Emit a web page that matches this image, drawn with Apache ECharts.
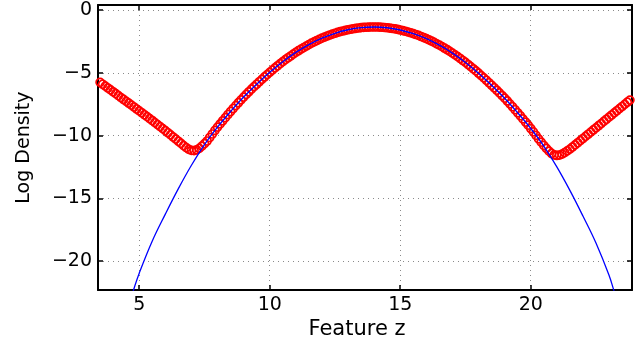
<!DOCTYPE html>
<html>
<head>
<meta charset="utf-8">
<script src="https://cdn.jsdelivr.net/npm/echarts@6/dist/echarts.min.js"></script>
<style>
  html, body { margin: 0; padding: 0; background: #fff; }
  #chart { width: 644px; height: 345px; }
</style>
</head>
<body>
<div id="chart"></div>
<script>
// tick labels
const xTicks = [5, 10, 15, 20];
const yTicks = [-20, -15, -10, -5, 0];

// blue curve (Gaussian fit)
const blueCurve = [
  [4.7, -22.9], [4.8, -22.17], [5.0, -20.95], [5.5, -18.39], [6.0, -16.25], [6.5, -14.22],
  [7.0, -12.36], [7.5, -10.71], [8.0, -9.32], [8.5, -8.08], [9.0, -6.93], [9.5, -5.91],
  [10.0, -4.96], [10.5, -4.11], [11.0, -3.37], [11.5, -2.75], [12.0, -2.24], [12.5, -1.85],
  [13.0, -1.57], [13.5, -1.40], [14.0, -1.35], [14.5, -1.41], [15.0, -1.59], [15.5, -1.88],
  [16.0, -2.28], [16.5, -2.80], [17.0, -3.43], [17.5, -4.17], [18.0, -5.03], [18.5, -5.99],
  [19.0, -7.02], [19.5, -8.18], [20.0, -9.43], [20.5, -10.83], [21.0, -12.49], [21.5, -14.36],
  [22.0, -16.40], [22.5, -18.55], [23.0, -21.12], [23.2, -22.43], [23.3, -23.1]
];

// red circles (empirical log density)
const redCurve = [
  [3.4, -5.62], [3.5, -5.76], [3.6, -5.91], [3.7, -6.06], [3.8, -6.21], [3.9, -6.36],
  [4.0, -6.51], [4.1, -6.66], [4.2, -6.82], [4.3, -6.97], [4.4, -7.12], [4.5, -7.27],
  [4.6, -7.42], [4.7, -7.57], [4.8, -7.72], [4.9, -7.88], [5.0, -8.03], [5.1, -8.18],
  [5.2, -8.34], [5.3, -8.49], [5.4, -8.65], [5.5, -8.80], [5.6, -8.96], [5.7, -9.12],
  [5.8, -9.28], [5.9, -9.44], [6.0, -9.60], [6.1, -9.77], [6.2, -9.94], [6.3, -10.11],
  [6.4, -10.28], [6.5, -10.45], [6.6, -10.62], [6.7, -10.80], [6.8, -10.96], [6.9, -11.10],
  [7.0, -11.18], [7.1, -11.20], [7.2, -11.14], [7.3, -11.02], [7.4, -10.84], [7.5, -10.64],
  [7.6, -10.43], [7.7, -10.15], [7.8, -9.87], [7.9, -9.59], [8.0, -9.32], [8.1, -9.07],
  [8.2, -8.82], [8.3, -8.57], [8.4, -8.32], [8.5, -8.08], [8.6, -7.84], [8.7, -7.61],
  [8.8, -7.38], [8.9, -7.15], [9.0, -6.93], [9.1, -6.72], [9.2, -6.51], [9.3, -6.30],
  [9.4, -6.10], [9.5, -5.91], [9.6, -5.71], [9.7, -5.52], [9.8, -5.33], [9.9, -5.14],
  [10.0, -4.96], [10.1, -4.78], [10.2, -4.61], [10.3, -4.44], [10.4, -4.27], [10.5, -4.11],
  [10.6, -3.95], [10.7, -3.80], [10.8, -3.66], [10.9, -3.51], [11.0, -3.37], [11.1, -3.24],
  [11.2, -3.11], [11.3, -2.99], [11.4, -2.87], [11.5, -2.75], [11.6, -2.64], [11.7, -2.54],
  [11.8, -2.43], [11.9, -2.34], [12.0, -2.24], [12.1, -2.16], [12.2, -2.07], [12.3, -1.99],
  [12.4, -1.92], [12.5, -1.85], [12.6, -1.78], [12.7, -1.72], [12.8, -1.67], [12.9, -1.62],
  [13.0, -1.57], [13.1, -1.53], [13.2, -1.49], [13.3, -1.46], [13.4, -1.43], [13.5, -1.40],
  [13.6, -1.38], [13.7, -1.37], [13.8, -1.36], [13.9, -1.35], [14.0, -1.35], [14.1, -1.35],
  [14.2, -1.36], [14.3, -1.37], [14.4, -1.39], [14.5, -1.41], [14.6, -1.44], [14.7, -1.47],
  [14.8, -1.50], [14.9, -1.54], [15.0, -1.59], [15.1, -1.64], [15.2, -1.69], [15.3, -1.75],
  [15.4, -1.81], [15.5, -1.88], [15.6, -1.95], [15.7, -2.02], [15.8, -2.11], [15.9, -2.19],
  [16.0, -2.28], [16.1, -2.37], [16.2, -2.47], [16.3, -2.58], [16.4, -2.69], [16.5, -2.80],
  [16.6, -2.91], [16.7, -3.04], [16.8, -3.16], [16.9, -3.29], [17.0, -3.43], [17.1, -3.57],
  [17.2, -3.71], [17.3, -3.86], [17.4, -4.02], [17.5, -4.17], [17.6, -4.34], [17.7, -4.51],
  [17.8, -4.68], [17.9, -4.85], [18.0, -5.03], [18.1, -5.22], [18.2, -5.40], [18.3, -5.59],
  [18.4, -5.79], [18.5, -5.99], [18.6, -6.19], [18.7, -6.39], [18.8, -6.60], [18.9, -6.81],
  [19.0, -7.02], [19.1, -7.24], [19.2, -7.47], [19.3, -7.70], [19.4, -7.94], [19.5, -8.18],
  [19.6, -8.42], [19.7, -8.67], [19.8, -8.92], [19.9, -9.17], [20.0, -9.43], [20.1, -9.70],
  [20.2, -9.98], [20.3, -10.26], [20.4, -10.52], [20.5, -10.78], [20.6, -11.02], [20.7, -11.24],
  [20.8, -11.42], [20.9, -11.54], [21.0, -11.58], [21.1, -11.55], [21.2, -11.47], [21.3, -11.35],
  [21.4, -11.22], [21.5, -11.07], [21.6, -10.91], [21.7, -10.74], [21.8, -10.57], [21.9, -10.40],
  [22.0, -10.23], [22.1, -10.06], [22.2, -9.89], [22.3, -9.72], [22.4, -9.55], [22.5, -9.38],
  [22.6, -9.21], [22.7, -9.04], [22.8, -8.87], [22.9, -8.70], [23.0, -8.53], [23.1, -8.36],
  [23.2, -8.19], [23.3, -8.02], [23.4, -7.85], [23.5, -7.68], [23.6, -7.51], [23.7, -7.34],
  [23.8, -7.17], [23.9, -7.00]
];

const xMin = 3.42, xMax = 23.88;
const yMin = -22.3, yMax = 0.4;

const FONT = "DejaVu Sans";
const gridDots = { color: "#8a8a8a", width: 1, type: [1, 4] };

function tickLabel(list) {
  return function (v) {
    for (let i = 0; i < list.length; i++) {
      if (Math.abs(list[i] - v) < 1e-6) return String(list[i]).replace("-", "\u2212");
    }
    return "";
  };
}

let myChart = echarts.init(document.getElementById("chart"), null, { renderer: "canvas" });
myChart.setOption({
  animation: false,
  backgroundColor: "#fff",
  grid: { left: 98, right: 12, top: 5, bottom: 49, containLabel: false },
  xAxis: [
    {
      type: "value", min: xMin, max: xMax, splitNumber: 4,
      name: "Feature z", nameLocation: "middle", nameGap: 18,
      nameTextStyle: { fontFamily: FONT, fontSize: 21, color: "#000", padding: [0, 16, 0, 0] },
      axisLine: { onZero: false, lineStyle: { color: "#000", width: 2 } },
      axisTick: { inside: true, length: 5, lineStyle: { color: "#000", width: 1.5 } },
      axisLabel: { formatter: tickLabel(xTicks), margin: 5, fontFamily: FONT, fontSize: 19, color: "#000" },
      splitLine: { show: true, lineStyle: gridDots }
    },
    {
      type: "value", min: xMin, max: xMax, splitNumber: 4, position: "top",
      axisLine: { onZero: false, lineStyle: { color: "#000", width: 2 } },
      axisTick: { inside: true, length: 5, lineStyle: { color: "#000", width: 1.5 } },
      axisLabel: { show: false },
      splitLine: { show: false }
    }
  ],
  yAxis: [
    {
      type: "value", min: yMin, max: yMax, splitNumber: 5,
      name: "Log Density", nameLocation: "middle", nameGap: 64, nameRotate: 90,
      nameTextStyle: { fontFamily: FONT, fontSize: 19, color: "#000" },
      axisLine: { show: true, onZero: false, lineStyle: { color: "#000", width: 2 } },
      axisTick: { show: true, inside: true, length: 5, lineStyle: { color: "#000", width: 1.5 } },
      axisLabel: { formatter: tickLabel(yTicks), margin: 6, fontFamily: FONT, fontSize: 19, color: "#000" },
      splitLine: { show: true, lineStyle: gridDots }
    },
    {
      type: "value", min: yMin, max: yMax, splitNumber: 5, position: "right",
      axisLine: { show: true, onZero: false, lineStyle: { color: "#000", width: 2 } },
      axisTick: { show: true, inside: true, length: 5, lineStyle: { color: "#000", width: 1.5 } },
      axisLabel: { show: false },
      splitLine: { show: false }
    }
  ],
  series: [
    {
      name: "empirical",
      type: "scatter",
      data: redCurve,
      symbol: "circle",
      symbolSize: 8,
      itemStyle: { color: "rgba(0,0,0,0)", borderColor: "#ff0000", borderWidth: 1.7, opacity: 1 },
      z: 2
    },
    {
      name: "gaussian",
      type: "line",
      data: blueCurve,
      smooth: 0.4,
      showSymbol: false,
      clip: true,
      lineStyle: { color: "#0000ff", width: 1.3 },
      z: 3
    }
  ]
});
</script>
</body>
</html>
